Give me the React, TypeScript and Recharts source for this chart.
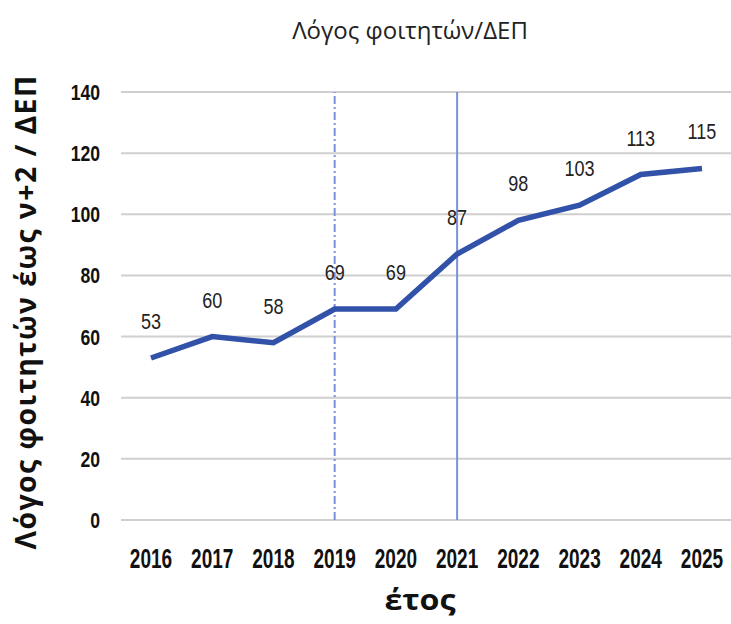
import React from "react"
import { CartesianGrid, LabelList, Line, LineChart, ReferenceLine, XAxis, YAxis } from "recharts"

const years = ["2016", "2017", "2018", "2019", "2020", "2021", "2022", "2023", "2024", "2025"]
const ratio = [53, 60, 58, 69, 69, 87, 98, 103, 113, 115]
const yTicks = [0, 20, 40, 60, 80, 100, 120, 140]

const data = years.map((year, i) => ({ year, ratio: ratio[i] }))

const sans = "'Liberation Sans', Arial, sans-serif"

// the source chart uses a condensed font, so squeeze the text horizontally
function XTick({ x, y, payload }: any) {
  return (
    <text
      transform={`translate(${x},${y + 48}) scale(0.68,1)`}
      textAnchor="middle"
      fontFamily={sans}
      fontWeight={700}
      fontSize={28}
      fill="#111"
    >
      {payload.value}
    </text>
  )
}

function YTick({ x, y, payload }: any) {
  return (
    <text
      transform={`translate(${x},${y + 8}) scale(0.8,1)`}
      textAnchor="end"
      fontFamily={sans}
      fontWeight={700}
      fontSize={22}
      fill="#111"
    >
      {payload.value}
    </text>
  )
}

function ValueLabel({ x, y, value }: any) {
  return (
    <text
      transform={`translate(${x},${y - 29}) scale(0.82,1)`}
      textAnchor="middle"
      fontFamily={sans}
      fontSize={22}
      fill="#222"
    >
      {value}
    </text>
  )
}

export default function App() {
  return (
    <div style={{ position: "absolute", left: 0, top: 0, width: 731, height: 624, background: "#fff", overflow: "hidden" }}>
      <div
        style={{
          position: "absolute",
          top: 13,
          left: 0,
          width: 820,
          textAlign: "center",
          fontFamily: "'Open Sans', sans-serif",
          fontSize: 24,
          color: "#222",
        }}
      >
        Λόγος φοιτητών/ΔΕΠ
      </div>
      <div
        style={{
          position: "absolute",
          top: 580,
          left: 420 - 100,
          width: 200,
          textAlign: "center",
          fontFamily: "'Open Sans', sans-serif",
          fontWeight: 700,
          fontSize: 28,
          color: "#111",
          transform: "scaleX(1.15)",
        }}
      >
        έτος
      </div>
      <LineChart width={731} height={624} data={data} margin={{ top: 92, right: 0, bottom: 0, left: 0 }}>
        <CartesianGrid vertical={false} stroke="#cfcfcf" strokeWidth={2} />
        <XAxis
          dataKey="year"
          axisLine={false}
          tickLine={false}
          tickSize={0}
          tickMargin={0}
          height={104}
          interval={0}
          padding={{ left: 30, right: 29 }}
          tick={<XTick />}
        />
        <YAxis
          width={121}
          domain={[0, 140]}
          ticks={yTicks}
          axisLine={false}
          tickLine={false}
          tickSize={0}
          tickMargin={21}
          tick={<YTick />}
          label={{
            content: () => (
              <text
                x={36}
                y={312}
                transform="rotate(-90 36 312)"
                textAnchor="middle"
                fontFamily="'Open Sans', sans-serif"
                fontWeight={700}
                fontSize={28.5}
                letterSpacing={1.4}
                fill="#111"
              >
                Λόγος φοιτητών έως ν+2 / ΔΕΠ
              </text>
            ),
          }}
        />
        <ReferenceLine x="2019" stroke="#7b90d8" strokeWidth={2} strokeDasharray="8 3 2 3" />
        <ReferenceLine x="2021" stroke="#7b90d8" strokeWidth={2} />
        <Line
          type="linear"
          dataKey="ratio"
          stroke="#3152a8"
          strokeWidth={5.5}
          dot={false}
          isAnimationActive={false}
        >
          <LabelList dataKey="ratio" content={<ValueLabel />} />
        </Line>
      </LineChart>
    </div>
  )
}
